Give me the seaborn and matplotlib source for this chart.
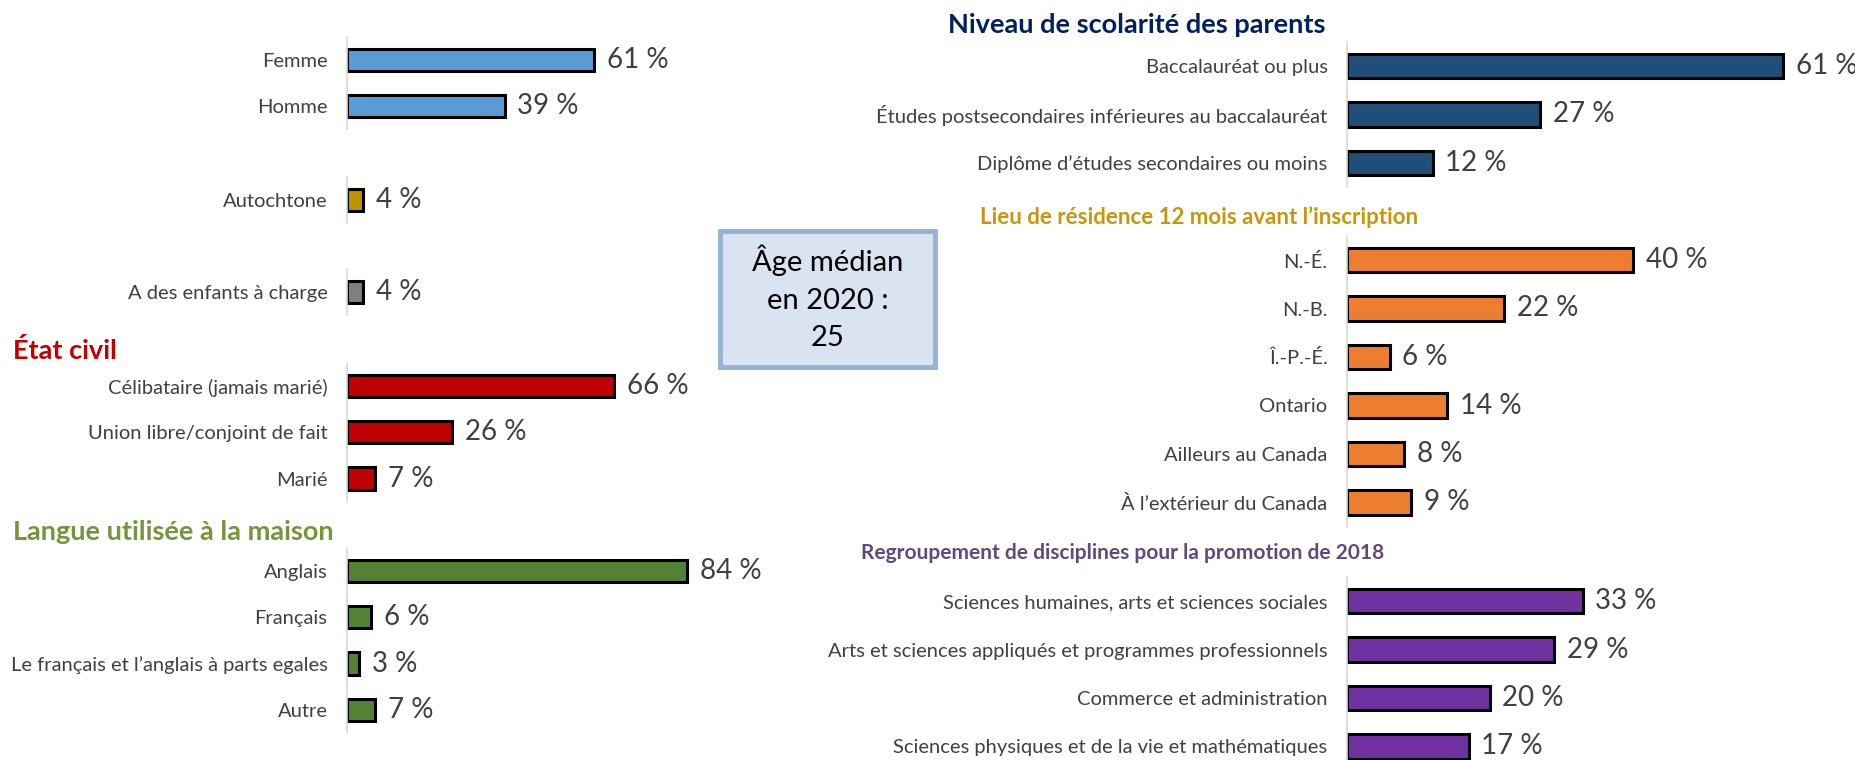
"""
Profil des diplômés - barres horizontales par groupe
"""

import matplotlib
matplotlib.use("Agg")
import matplotlib.pyplot as plt
import matplotlib.patches as mpatches
import seaborn as sns
import pandas as pd

sns.set_theme(style="white")
plt.rcParams["font.family"] = ["Lato", "DejaVu Sans"]

# ── Données ───────────────────────────────────────────────────────────────────
sexe_labels = ["Femme", "Homme"]
sexe_values = [61, 39]

autochtone_labels = ["Autochtone"]
autochtone_values = [4]

enfants_labels = ["A des enfants à charge"]
enfants_values = [4]

etat_title = "État civil"
etat_labels = ["Célibataire (jamais marié)", "Union libre/conjoint de fait", "Marié"]
etat_values = [66, 26, 7]

langue_title = "Langue utilisée à la maison"
langue_labels = ["Anglais", "Français", "Le français et l’anglais à parts egales", "Autre"]
langue_values = [84, 6, 3, 7]

niveau_title = "Niveau de scolarité des parents"
niveau_labels = ["Baccalauréat ou plus",
                 "Études postsecondaires inférieures au baccalauréat",
                 "Diplôme d’études secondaires ou moins"]
niveau_values = [61, 27, 12]

lieu_title = "Lieu de résidence 12 mois avant l’inscription"
lieu_labels = ["N.-É.", "N.-B.", "Î.-P.-É.", "Ontario", "Ailleurs au Canada",
               "À l’extérieur du Canada"]
lieu_values = [40, 22, 6, 14, 8, 9]

disc_title = "Regroupement de disciplines pour la promotion de 2018"
disc_labels = ["Sciences humaines, arts et sciences sociales",
               "Arts et sciences appliqués et programmes professionnels",
               "Commerce et administration",
               "Sciences physiques et de la vie et mathématiques"]
disc_values = [33, 29, 20, 17]

age_text = "Âge médian\nen 2020 :\n25"

# ── Mise en page (pixels) ─────────────────────────────────────────────────────
W, H = 1855, 760
TXT = "#404040"
LEFT_X0, LEFT_PX, LEFT_MAX, LEFT_STEP = 347, 4.05, 100, 46.3
RIGHT_X0, RIGHT_PX, RIGHT_MAX, RIGHT_STEP = 1347, 7.15, 70, 48.5

fig = plt.figure(figsize=(W / 100, H / 100), dpi=100)


def draw_group(labels, values, color, side, y_first, bar_w):
    if side == "left":
        x0, px, xmax, step = LEFT_X0, LEFT_PX, LEFT_MAX, LEFT_STEP
    else:
        x0, px, xmax, step = RIGHT_X0, RIGHT_PX, RIGHT_MAX, RIGHT_STEP
    n = len(labels)
    top = y_first - step / 2
    ax = fig.add_axes([x0 / W, 1 - (top + n * step) / H, px * xmax / W, n * step / H])
    df = pd.DataFrame({"cat": labels, "val": values})
    sns.barplot(data=df, x="val", y="cat", ax=ax, color=color, saturation=1,
                width=bar_w, edgecolor="black", linewidth=2.2)
    ax.set_xlim(0, xmax)
    ax.set_ylim(n - 0.5, -0.5)
    ax.set_xlabel(""); ax.set_ylabel("")
    ax.set_xticks([])
    for s in ["top", "right", "bottom"]:
        ax.spines[s].set_visible(False)
    ax.spines["left"].set_color("#D9D9D9")
    ax.spines["left"].set_linewidth(1.2)
    ax.tick_params(axis="y", length=0, pad=14, labelsize=14.5, labelcolor=TXT)
    ax.patch.set_alpha(0)
    ax.bar_label(ax.containers[0], labels=[f"{v} %" for v in values],
                 padding=9, fontsize=20, color=TXT)
    return ax


def title(text, x, y, color, ha, size):
    fig.text(x / W, 1 - y / H, text, ha=ha, va="center", fontsize=size,
             fontweight="bold", color=color)


# Colonne de gauche
draw_group(sexe_labels, sexe_values, "#5B9BD5", "left", 60, 0.48)
draw_group(autochtone_labels, autochtone_values, "#BF9000", "left", 200, 0.48)
draw_group(enfants_labels, enfants_values, "#7F7F7F", "left", 292, 0.48)
title(etat_title, 13, 351, "#C00000", "left", 19.5)
draw_group(etat_labels, etat_values, "#C00000", "left", 386, 0.48)
title(langue_title, 13, 532, "#77933C", "left", 19.5)
draw_group(langue_labels, langue_values, "#548235", "left", 571, 0.48)

# Colonne de droite
title(niveau_title, 1325, 25, "#002060", "right", 19.5)
draw_group(niveau_labels, niveau_values, "#1F4E79", "right", 66, 0.5)
title(lieu_title, 1199, 217, "#C8960C", "center", 16)
draw_group(lieu_labels, lieu_values, "#ED7D31", "right", 260, 0.5)
title(disc_title, 1123, 553, "#604A7B", "center", 15)
draw_group(disc_labels, disc_values, "#7030A0", "right", 601, 0.5)

# Encadré âge médian
box = mpatches.Rectangle((720 / W, 1 - 367 / H), 215 / W, 136 / H,
                         transform=fig.transFigure, facecolor="#DAE3F1",
                         edgecolor="#95B3D7", linewidth=3.5)
fig.patches.append(box)
fig.text(827.5 / W, 1 - 298 / H, age_text, ha="center", va="center",
         fontsize=21, color="black", linespacing=1.55)

fig.savefig("out.png", dpi=100)
